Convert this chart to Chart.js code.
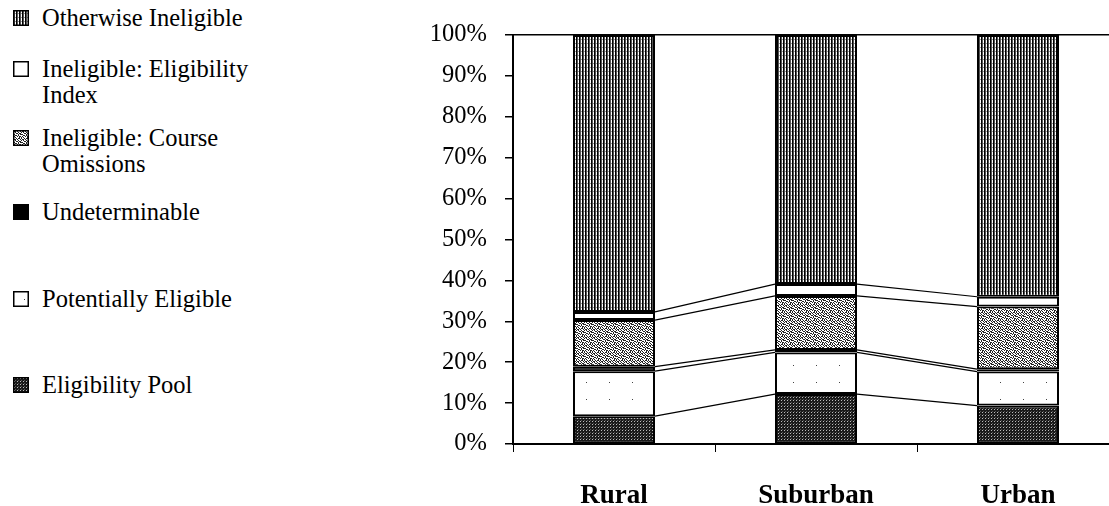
<!DOCTYPE html>
<html>
<head>
<meta charset="utf-8">
<script src="https://cdn.jsdelivr.net/npm/chart.js@4/dist/chart.umd.min.js"></script>
<style>
  html, body { margin: 0; padding: 0; background: #fff; overflow: hidden; width: 1109px; height: 506px; }
  #wrap { position: absolute; left: 0; top: 0; width: 1125px; height: 506px; }
  .leg { position: absolute; left: 13px; font-family: "Liberation Serif", "Times New Roman", serif; font-size: 24.5px; color: #000; line-height: 26px; white-space: nowrap; }
  .leg canvas { position: absolute; left: 0; top: 5px; }
  .leg span { display: block; margin-left: 29px; }
</style>
</head>
<body>
<div id="legend"></div>
<div id="wrap"><canvas id="chart"></canvas></div>
<script>
// categories and series (percent of each area)
const areas = ['Rural', 'Suburban', 'Urban'];
const seriesNames = ['Eligibility Pool', 'Potentially Eligible', 'Undeterminable',
  'Ineligible: Course Omissions', 'Ineligible: Eligibility Index', 'Otherwise Ineligible'];
const eligibilityPool = [6.8, 12.2, 9.4];
const potentiallyEligible = [11.0, 10.2, 8.3];
const undeterminable = [1.1, 0.6, 0.6];
const courseOmissions = [11.4, 13.2, 15.3];
const eligibilityIndex = [2.0, 2.9, 2.4];
const otherwiseIneligible = [67.7, 60.9, 64.0];
const yTicks = [0, 10, 20, 30, 40, 50, 60, 70, 80, 90, 100];

// fill textures
function makePattern(w, h, draw) {
  const c = document.createElement('canvas');
  c.width = w; c.height = h;
  const g = c.getContext('2d');
  g.fillStyle = '#fff'; g.fillRect(0, 0, w, h);
  draw(g);
  return g.createPattern(c, 'repeat');
}
const stripes = makePattern(3, 4, g => {
  g.fillStyle = '#000'; g.fillRect(0, 0, 1, 4);
  g.fillStyle = '#555'; g.fillRect(1, 0, 1, 4);
  g.fillStyle = '#999'; g.fillRect(2, 3, 1, 1);
});
const grid = makePattern(3, 3, g => {
  g.fillStyle = '#1a1a1a'; g.fillRect(0, 0, 3, 3);
  g.fillStyle = '#bbb'; g.fillRect(1, 1, 1, 1);
  g.fillStyle = '#555'; g.fillRect(2, 0, 1, 1);
});
const speckleBits = [
  '10010110',
  '01101001',
  '10100100',
  '00011011',
  '11000101',
  '00110100',
  '01001011',
  '10100010'
];
const speckle = makePattern(8, 8, g => {
  g.fillStyle = '#222';
  speckleBits.forEach((row, y) => row.split('').forEach((b, x) => { if (b === '1') g.fillRect(x, y, 1, 1); }));
});
const sparse = makePattern(23, 17, g => {
  g.fillStyle = '#444'; g.fillRect(11, 8, 1, 1);
});
const fills = [grid, sparse, '#000', speckle, '#fff', stripes];
const seriesData = [eligibilityPool, potentiallyEligible, undeterminable, courseOmissions, eligibilityIndex, otherwiseIneligible];

// legend on the left (top to bottom = reverse of stack order)
const legendRows = [
  { i: 5, top: 5, lines: ['Otherwise Ineligible'] },
  { i: 4, top: 56, lines: ['Ineligible: Eligibility', 'Index'] },
  { i: 3, top: 125, lines: ['Ineligible: Course', 'Omissions'] },
  { i: 2, top: 199, lines: ['Undeterminable'] },
  { i: 1, top: 286, lines: ['Potentially Eligible'] },
  { i: 0, top: 372, lines: ['Eligibility Pool'] }
];
const legendEl = document.getElementById('legend');
legendRows.forEach(r => {
  const d = document.createElement('div');
  d.className = 'leg';
  d.style.top = r.top + 'px';
  const c = document.createElement('canvas');
  c.width = 16; c.height = 16;
  const g = c.getContext('2d');
  g.fillStyle = fills[r.i]; g.fillRect(0, 0, 16, 16);
  g.strokeStyle = '#000'; g.lineWidth = 1.5; g.strokeRect(0.75, 0.75, 14.5, 14.5);
  d.appendChild(c);
  r.lines.forEach(t => { const s = document.createElement('span'); s.textContent = t; d.appendChild(s); });
  legendEl.appendChild(d);
});

// Excel-style series lines between neighbouring bars
const seriesLines = {
  id: 'seriesLines',
  afterDatasetsDraw(chart) {
    const c = chart.ctx, y = chart.scales.y;
    c.save();
    c.strokeStyle = '#000';
    c.lineWidth = 1.2;
    for (let j = 0; j < areas.length - 1; j++) {
      let a = 0, b = 0;
      for (let s = 0; s < seriesData.length - 1; s++) {
        a += seriesData[s][j];
        b += seriesData[s][j + 1];
        const m = chart.getDatasetMeta(s);
        const p = m.data[j], q = m.data[j + 1];
        c.beginPath();
        c.moveTo(p.x + p.width / 2, y.getPixelForValue(a));
        c.lineTo(q.x - q.width / 2, y.getPixelForValue(b));
        c.stroke();
      }
    }
    c.restore();
  }
};

const serif = '"Liberation Serif", "Times New Roman", serif';
new Chart(document.getElementById('chart'), {
  type: 'bar',
  data: {
    labels: areas,
    datasets: seriesData.map((d, i) => ({
      label: seriesNames[i],
      data: d,
      backgroundColor: fills[i],
      borderColor: '#000',
      borderWidth: 2,
      borderSkipped: false,
      categoryPercentage: 1,
      barPercentage: 0.406
    }))
  },
  options: {
    responsive: true,
    maintainAspectRatio: false,
    animation: false,
    events: [],
    layout: { padding: { left: 300, right: 6, top: 35, bottom: 0 } },
    plugins: { legend: { display: false }, tooltip: { enabled: false } },
    scales: {
      x: {
        stacked: true,
        offset: true,
        afterFit: s => { s.height = 62; },
        border: { color: '#000', width: 2 },
        grid: { offset: true, drawOnChartArea: false, color: '#000', tickLength: 8, lineWidth: 1 },
        ticks: { color: '#000', padding: 28, font: { family: serif, size: 27, weight: 'bold' } }
      },
      y: {
        stacked: true,
        min: 0,
        max: 100,
        afterFit: s => { s.width = 213; },
        afterBuildTicks: s => { s.ticks = yTicks.map(v => ({ value: v })); },
        border: { color: '#000', width: 2 },
        grid: {
          color: ctx => ctx.tick && ctx.tick.value === 100 ? '#000' : 'rgba(0,0,0,0)',
          tickColor: '#000', tickLength: 8, lineWidth: 1.5
        },
        ticks: { color: '#000', padding: 18, callback: v => v + '%', font: { family: serif, size: 24.5 } }
      }
    }
  },
  plugins: [seriesLines]
});
</script>
</body>
</html>
